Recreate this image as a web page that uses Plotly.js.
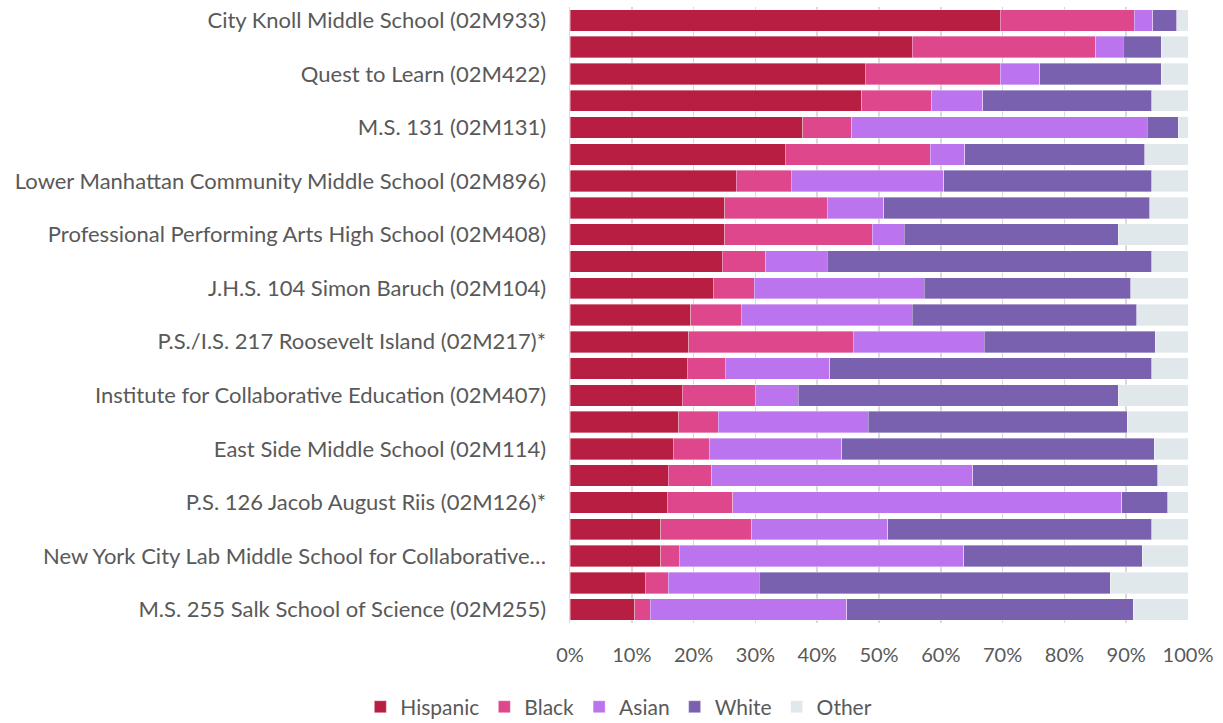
<!DOCTYPE html>
<html>
<head>
<meta charset="utf-8">
<script src="https://cdn.plot.ly/plotly-3.0.1.min.js"></script>
<style>html,body{margin:0;padding:0;background:#fff;}#chart{width:1223px;height:723px;}</style>
</head>
<body>
<div id="chart"></div>
<script>
const schools = [
  "City Knoll Middle School (02M933)", "",
  "Quest to Learn (02M422)", "",
  "M.S. 131 (02M131)", "",
  "Lower Manhattan Community Middle School (02M896)", "",
  "Professional Performing Arts High School (02M408)", "",
  "J.H.S. 104 Simon Baruch (02M104)", "",
  "P.S./I.S. 217 Roosevelt Island (02M217)*", "",
  "Institute for Collaborative Education (02M407)", "",
  "East Side Middle School (02M114)", "",
  "P.S. 126 Jacob August Riis (02M126)*", "",
  "New York City Lab Middle School for Collaborative\u2026", "",
  "M.S. 255 Salk School of Science (02M255)"
];
const hispanic = [69.6,55.4,47.8,47.2,37.7,34.8,26.9,25.0,25.0,24.6,23.2,19.5,19.2,19.0,18.2,17.6,16.7,15.9,15.7,14.7,14.7,12.2,10.5];
const black    = [21.7,29.7,21.8,11.3,7.9,23.5,8.9,16.6,23.9,7.1,6.6,8.2,26.6,6.1,11.8,6.4,5.8,7.0,10.6,14.7,3.0,3.7,2.5];
const asian    = [3.0,4.4,6.4,8.3,47.8,5.6,24.7,9.2,5.2,9.9,27.5,27.7,21.2,16.9,6.9,24.3,21.5,42.3,63.0,22.0,46.0,14.7,31.8];
const white    = [3.9,6.2,19.7,27.3,5.0,29.1,33.6,43.0,34.6,52.5,33.4,36.3,27.7,52.1,51.8,41.9,50.5,29.9,7.4,42.7,28.9,56.8,46.3];
const other    = [1.8,4.3,4.3,5.9,1.6,7.0,5.9,6.2,11.3,5.9,9.3,8.3,5.3,5.9,11.3,9.8,5.5,4.9,3.3,5.9,7.4,12.6,8.9];
const tickPct = [0,10,20,30,40,50,60,70,80,90,100];

const seriesNames = ["Hispanic","Black","Asian","White","Other"];
const seriesVals = [hispanic, black, asian, white, other];
const colors = ["#b81e42","#de478b","#bb73ee","#7961b0","#e1e8ec"];

const rows = schools.map((_, i) => i);
const tickRows = rows.filter(i => schools[i] !== "");

const traces = seriesNames.map((name, k) => ({
  type: "bar",
  orientation: "h",
  name: name,
  x: seriesVals[k],
  y: rows,
  marker: {color: colors[k], line: {color: "rgba(255,255,255,0.6)", width: 0.6}},
  hoverinfo: "x+name"
}));

const layout = {
  width: 1223, height: 723,
  barmode: "stack",
  bargap: 0.2,
  margin: {l: 570, r: 35, t: 7, b: 100},
  paper_bgcolor: "#fff",
  plot_bgcolor: "#fff",
  font: {family: "Lato, 'Open Sans', sans-serif", color: "#595959", size: 20},
  xaxis: {
    range: [0, 100],
    tickvals: tickPct,
    ticktext: tickPct.map(v => v + "%"),
    showgrid: true,
    gridcolor: "#d9d9d9",
    gridwidth: 1.5,
    zeroline: false,
    showline: false,
    ticks: "",
    ticklabelstandoff: 18,
    tickfont: {size: 20, color: "#595959"},
    automargin: false,
    fixedrange: true
  },
  yaxis: {
    range: [rows.length - 0.5, -0.5],
    tickvals: tickRows,
    ticktext: tickRows.map(i => schools[i]),
    showgrid: false,
    zeroline: false,
    showline: true,
    linecolor: "#d9d9d9",
    linewidth: 1.5,
    ticks: "",
    ticklen: 0,
    ticklabelstandoff: 18,
    tickfont: {size: 22, color: "#595959"},
    automargin: false,
    fixedrange: true
  },
  showlegend: true,
  legend: {
    orientation: "h",
    xref: "paper",
    x: 0.079, xanchor: "center",
    yref: "container",
    y: 0.022, yanchor: "middle",
    font: {size: 21, color: "#595959"},
    traceorder: "normal",
    itemwidth: 30
  }
};

Plotly.newPlot("chart", traces, layout, {displayModeBar: false, staticPlot: true});
</script>
</body>
</html>
